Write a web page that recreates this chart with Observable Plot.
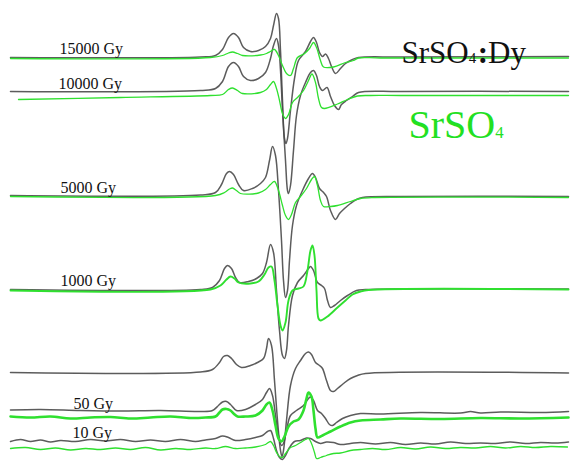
<!DOCTYPE html>
<html><head><meta charset="utf-8">
<script src="https://cdn.jsdelivr.net/npm/d3@7"></script>
<script src="https://cdn.jsdelivr.net/npm/@observablehq/plot@0.6"></script>
<style>html,body{margin:0;padding:0;background:#fff;} #chart{width:574px;height:462px;overflow:hidden}</style>
</head><body><div id="chart"></div>
<script>
// Dose labels and where they sit (field position, trace level)
const doseLabels = ["15000 Gy", "10000 Gy", "5000 Gy", "1000 Gy", "50 Gy", "10 Gy"];
const labelField = [59, 58, 60, 60, 73, 72];
const labelLevel = [53, 88, 192, 285, 408, 437];

// Legend texts
const sampleNames = ["SrSO4:Dy", "SrSO4"];
const legendField = [401, 408];
const legendLevel = [62, 137];

// Spectra: [field, signal level] (signal level grows downward)
const dy15000 = [[10,57],[200,56.5],[215,55],[222,49],[228,37],[233,33],[238,37],[243,47],[250,51],[258,50],[265,46],[270,38],[273,25],[276,13],[278,18],[280,50],[282,100],[284,138],[285.5,143],[287,138],[290,110],[294,78],[298,60],[305,51],[310,41],[313,37],[316,42],[319,52],[322,56],[325,53.5],[328,58],[331,66],[335,73],[340,68],[345,63],[352,59],[358,57],[400,56.5],[568,56]];
const pure15000 = [[10,58],[210,57],[222,55],[228,52.5],[232,51.5],[237,53],[242,55],[260,54.5],[266,53],[270,51],[274,49],[278,55],[282,65],[286,73],[290,75],[293,68],[297,57],[304,53],[309,48],[313,42],[316,47],[320,60],[323,66.5],[333,66.5],[345,62],[353,60],[358,57.5],[380,57.5],[568,57.5]];
const dy10000 = [[10,91],[200,90],[215,88],[222,81],[228,66],[233,62],[238,66],[243,76],[250,80],[258,78],[265,72],[270,58],[273,45],[276,38],[278,45],[280,70],[282,110],[285,160],[287,190],[288,193],[290,185],[293,150],[296,115],[300,95],[305,82],[310,72],[313,70],[316,75],[319,86],[322,90],[326.5,87],[330,96],[334,105],[338,109],[341,104],[346,100],[352,96],[358,92],[400,91],[568,91]];
const pure10000 = [[18,99],[120,97],[210,95],[222,94],[228,89],[232,87.5],[237,90],[242,93],[260,92],[266,89],[270,84],[273,81],[276,88],[279,100],[282,113],[285,118],[288,114],[292,102],[297,97],[303,90],[308,80],[311.5,73.5],[315,82],[318,98],[321,107],[324,108],[337,103.5],[347,99],[357,95.5],[370,95],[400,95],[568,95]];
const dy5000 = [[10,195],[200,194.5],[215,192],[221,184],[226,173],[229,171],[233,174],[238,184],[243,190],[252,188],[260,183],[265,177],[269,160],[272,146],[275,155],[278,190],[281,240],[283,280],[285,297],[287,290],[289,260],[292,225],[296,205],[302,190],[308,178],[312,173],[315,177],[319,188],[323,192],[326,196],[330,210],[335,219],[339,213],[344,208],[350,203],[356,199],[362,197],[400,196],[568,196]];
const pure5000 = [[10,196],[215,195],[224,192],[229,188.5],[232,187.5],[236,190],[240,193],[258,192.5],[265,189],[270,184],[274,181],[278,190],[282,205],[285,215],[288,219],[291,214],[295,202],[300,196],[306,188],[311,179],[314,176],[317,185],[320,200],[323,206],[330,206],[337,205],[350,201],[360,198],[375,197],[568,197]];
const dy1000 = [[10,289],[200,289],[212,287],[219,280],[224,268],[227,265],[231,268],[235,277],[239,282],[248,281],[256,278],[262,273],[266,262],[270,244],[273,252],[276,290],[279,330],[282,355],[284,358],[286,350],[288,325],[292,295],[297,282],[303,275],[308,268],[310,266],[313,270],[317,282],[321,285],[324,288],[327,300],[330,307],[334,305],[340,300],[347,295],[356,290],[365,289],[568,288.5]];
const pure1000 = [[10,290],[210,289],[220,285],[226,279],[230,276],[234,278],[238,282],[250,283],[258,281],[264,274],[268,267],[271,266],[274,280],[277,305],[280,325],[282,330],[285,322],[288,300],[292,290],[298,288],[303,286],[307,270],[310,250],[312,245],[314,255],[316,290],[318,318],[320,320],[327,316],[337,307],[345,300],[352,294],[360,291],[368,289.5],[568,289]];
const dyUnlabeled = [[10,372],[200,371.5],[212,369],[219,362],[223,356],[227,355],[231,358],[236,364],[241,367],[250,365],[257,362],[263,358],[266,348],[268,338],[271,345],[274,380],[277,420],[280,450],[281.5,456],[283,450],[286,420],[290,385],[295,368],[300,360],[305,353],[308,351.5],[311,354],[315,362],[319,365],[322,368],[326,380],[330,390],[333,391],[337,388],[343,383],[350,378],[357,375],[365,373],[568,372.5]];
const dy50 = [[10,409.5],[40,409],[80,410],[120,410.5],[160,410],[200,411],[212,410],[218,405],[222,401.5],[226,401],[230,404],[236,410],[245,409],[255,404],[262,399],[266,392],[269,388],[272,395],[275,415],[278,435],[281,445],[283,443],[286,430],[290,415],[296,410],[303,405],[308,398],[310,396.5],[313,400],[317,410],[321,413],[325,418],[329,424],[332,425],[336,422],[342,418],[350,415],[360,413],[380,413.5],[420,412],[460,412.5],[470,411],[480,412.5],[500,411.5],[540,412],[568,411]];
const pure50 = [[10,416],[30,417],[50,416],[70,418],[90,417],[110,416.5],[130,418],[150,417],[170,416],[190,417.5],[205,417],[215,416],[219,412],[222,409],[226,408.5],[230,410],[233,413],[237,416],[245,416],[255,415],[262,410],[266,404],[269,402],[272,410],[275,425],[278,438],[281,441],[284,436],[288,426],[293,421],[298,419],[303,410],[306,398],[308,392],[311,396],[313,410],[315,428],[317,437],[322,435],[330,431],[340,426],[350,422],[360,420],[380,419],[400,418],[440,418.5],[480,417.5],[520,418],[568,417]];
const dy10 = [[10,441],[20,439],[30,441],[40,439.5],[50,441.5],[60,440],[75,441],[90,439],[105,440.5],[120,439],[135,441],[150,439.5],[165,441],[180,439],[195,441],[205,439.5],[215,438],[222,435.5],[228,437],[235,440],[245,439],[255,437],[262,435],[267,431],[270,430],[273,438],[276,450],[279,457],[282,459],[285,455],[289,447],[294,441],[300,440],[306,437.5],[310,438],[315,441],[320,443],[326,441.5],[333,442],[340,444],[350,443],[360,442],[375,443.5],[390,442],[405,444],[420,442.5],[435,443.5],[450,441.5],[465,443],[480,442.5],[495,443],[510,441.5],[525,443],[540,442],[555,442.5],[568,441.5]];
const pure10 = [[10,448],[25,447],[40,449],[55,447.5],[70,449.5],[85,448],[100,449],[115,447.5],[130,449],[145,447],[160,449.5],[175,448],[190,449],[205,447.5],[215,448],[225,446],[235,448],[245,447.5],[255,446.5],[265,444],[270,441],[273,445],[276,452],[279,456],[282,457],[285,453],[290,447],[295,445],[300,442],[305,439],[308,438],[311,443],[314,452],[316,458],[320,457],[326,455],[333,453],[340,452.5],[350,450],[360,449],[372,448],[385,449],[400,447],[415,448.5],[430,446.5],[445,448],[460,447],[475,447.5],[490,446],[505,447.5],[520,446],[535,447],[550,446],[567,446.5]];

const doped = [dy15000, dy10000, dy5000, dy1000, dyUnlabeled, dy50, dy10];
const pure = [pure15000, pure10000, pure5000, pure1000, pure50, pure10];
const pureWidth = [1.3, 1.3, 1.3, 1.9, 2.6, 1.3];

const BLACK = "#4a4a4a", GREEN = "#2fe02f";
const marks = [];
doped.forEach(s => marks.push(Plot.line(s, {x: d => d[0], y: d => d[1], stroke: BLACK, strokeWidth: 1.5, strokeOpacity: 0.9, curve: "catmull-rom"})));
pure.forEach((s, i) => marks.push(Plot.line(s, {x: d => d[0], y: d => d[1], stroke: GREEN, strokeWidth: pureWidth[i], curve: "catmull-rom"})));

const labels = doseLabels.map((t, i) => ({t, x: labelField[i], y: labelLevel[i]}));
marks.push(Plot.text(labels, {x: "x", y: "y", text: "t", textAnchor: "start", lineAnchor: "bottom", fontSize: 16, fill: "#111", fontFamily: "Liberation Serif"}));
marks.push(Plot.text([{t: sampleNames[0], x: legendField[0], y: legendLevel[0]}], {x: "x", y: "y", text: "t", textAnchor: "start", lineAnchor: "bottom", fontSize: 31, fill: "#111", fontFamily: "Liberation Serif"}));
marks.push(Plot.text([{t: sampleNames[1], x: legendField[1], y: legendLevel[1]}], {x: "x", y: "y", text: "t", textAnchor: "start", lineAnchor: "bottom", fontSize: 40, fill: "#22e022", fontFamily: "Liberation Serif"}));

const chart = Plot.plot({
  width: 574, height: 462,
  margin: 0,
  x: {domain: [0, 574], axis: null},
  y: {domain: [0, 462], range: [0, 462], axis: null},
  style: {background: "#fff", overflow: "visible"},
  marks
});
document.getElementById("chart").appendChild(chart);

// Render the digit in chemical formulas as a small subscript-size figure
d3.select(chart).selectAll("text").each(function() {
  const t = this.textContent;
  if (!sampleNames.includes(t)) return;
  const sel = d3.select(this);
  const ratio = t === sampleNames[0] ? 0.48 : 0.42;
  sel.text(null);
  t.split(/(\d)/).filter(s => s.length).forEach(part => {
    const sp = sel.append("tspan").text(part);
    if (/^\d$/.test(part)) sp.attr("font-size", ratio + "em");
    if (part.startsWith(":")) { sp.text(":"); sel.append("tspan").text(part.slice(1)); sp.attr("font-weight", "bold").attr("dx", "0.05em"); }
  });
});
</script></body></html>
